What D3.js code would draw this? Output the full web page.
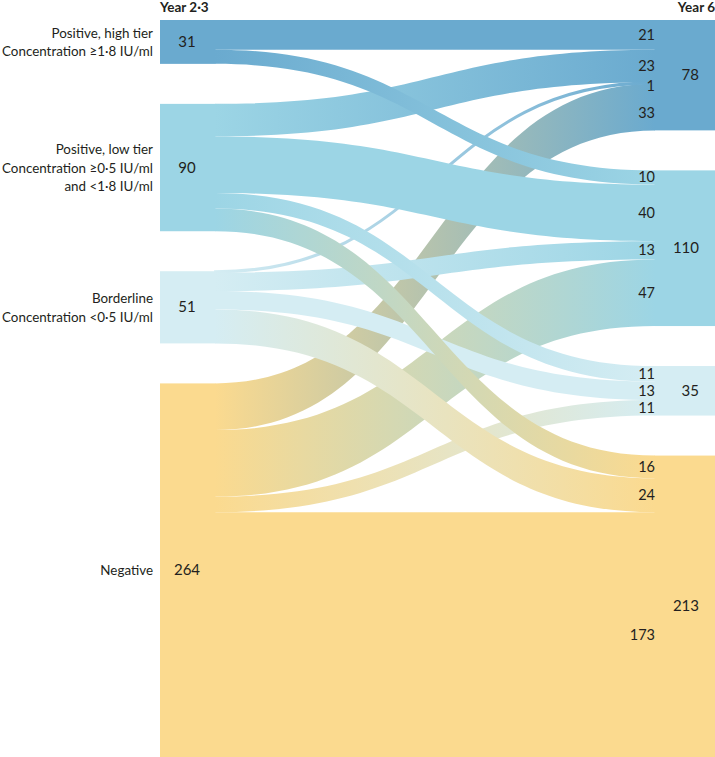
<!DOCTYPE html>
<html>
<head>
<meta charset="utf-8">
<script src="https://cdn.jsdelivr.net/npm/d3@7"></script>
<style>
  html, body { margin: 0; padding: 0; background: #fff; }
  svg { display: block; }
  text { font-family: Lato, "Open Sans", sans-serif; fill: #231f20; }
</style>
</head>
<body>
<div id="chart"></div>
<script>
// ---------- data ----------
const stages = ["Year 2·3", "Year 6"];
const categories = ["Positive, high tier", "Positive, low tier", "Borderline", "Negative"];
const categoryLabelLines = [
  ["Positive, high tier", "Concentration ≥1·8 IU/ml"],
  ["Positive, low tier", "Concentration ≥0·5 IU/ml", "and <1·8 IU/ml"],
  ["Borderline", "Concentration <0·5 IU/ml"],
  ["Negative"]
];
// flows from Year 2·3 category (row) to Year 6 category (column)
const fromHighTier   = [21, 10, 0, 0];
const fromLowTier    = [23, 40, 11, 16];
const fromBorderline = [1, 13, 13, 24];
const fromNegative   = [33, 47, 11, 173];
const flowMatrix = [fromHighTier, fromLowTier, fromBorderline, fromNegative];
const categoryColors = ["#6aaacf", "#9cd5e5", "#d5edf3", "#fbda8f"];

// ---------- layout ----------
const W = 715, H = 757;
const plotTop = 20, plotBottom = 757, nodeGap = 40;
const leftX0 = 160, leftX1 = 215, rightX0 = 655, rightX1 = 715;

const leftTotals = flowMatrix.map(r => d3.sum(r));
const rightTotals = categories.map((_, j) => d3.sum(flowMatrix, r => r[j]));
const grand = d3.sum(leftTotals);
const yScale = d3.scaleLinear().domain([0, grand])
  .range([0, (plotBottom - plotTop) - nodeGap * (categories.length - 1)]);

function stackNodes(totals) {
  let cur = plotTop;
  return totals.map(v => { const n = {y0: cur, y1: cur + yScale(v), value: v}; cur = n.y1 + nodeGap; return n; });
}
const leftNodes = stackNodes(leftTotals);
const rightNodes = stackNodes(rightTotals);

// build links
const links = [];
flowMatrix.forEach((row, i) => {
  let sOff = leftNodes[i].y0;
  row.forEach((v, j) => {
    if (v <= 0) return;
    const l = {s: i, t: j, value: v, sy0: sOff, sy1: sOff + yScale(v)};
    sOff = l.sy1;
    links.push(l);
  });
});
categories.forEach((_, j) => {
  let off = rightNodes[j].y0;
  links.filter(l => l.t === j).sort((a, b) => a.s - b.s).forEach(l => {
    l.ty0 = off; l.ty1 = off + yScale(l.value); off = l.ty1;
  });
});

const svg = d3.select("#chart").append("svg").attr("width", W).attr("height", H);
const defs = svg.append("defs");

function ribbon(l) {
  const x0 = leftX1, x1 = rightX0, xm = (x0 + x1) / 2;
  const p = d3.path();
  p.moveTo(x0, l.sy0);
  p.bezierCurveTo(xm, l.sy0, xm, l.ty0, x1, l.ty0);
  p.lineTo(x1, l.ty1);
  p.bezierCurveTo(xm, l.ty1, xm, l.sy1, x0, l.sy1);
  p.closePath();
  return p.toString();
}

links.forEach((l, k) => {
  const g = defs.append("linearGradient").attr("id", "g" + k)
    .attr("gradientUnits", "userSpaceOnUse")
    .attr("x1", leftX1).attr("x2", rightX0).attr("y1", 0).attr("y2", 0);
  g.append("stop").attr("offset", "0%").attr("stop-color", categoryColors[l.s]);
  g.append("stop").attr("offset", "100%").attr("stop-color", categoryColors[l.t]);
  l.k = k;
});

// nodes
svg.append("g").selectAll("rect").data(leftNodes).join("rect")
  .attr("x", leftX0).attr("width", leftX1 - leftX0 + 0.5)
  .attr("y", d => d.y0).attr("height", d => d.y1 - d.y0)
  .attr("fill", (d, i) => categoryColors[i]);
svg.append("g").selectAll("rect").data(rightNodes).join("rect")
  .attr("x", rightX0 - 0.5).attr("width", rightX1 - rightX0 + 0.5)
  .attr("y", d => d.y0).attr("height", d => d.y1 - d.y0)
  .attr("fill", (d, i) => categoryColors[i]);

// links: drawn from bottom source to top source
const drawOrder = links.slice().sort((a, b) => b.s - a.s || a.t - b.t);
svg.append("g").selectAll("path").data(drawOrder).join("path")
  .attr("d", ribbon)
  .attr("fill", d => `url(#g${d.k})`)
  .attr("stroke", d => yScale(d.value) < 3 ? `url(#g${d.k})` : "none")
  .attr("stroke-width", 1.8);

// stage titles
svg.append("text").attr("x", leftX0).attr("y", 12).attr("font-size", 13.5).attr("font-weight", 700)
  .text(stages[0]);
svg.append("text").attr("x", W).attr("y", 12).attr("font-size", 13.5).attr("font-weight", 700)
  .attr("text-anchor", "end").text(stages[1]);

// left category labels
const lineH = 18.5;
categoryLabelLines.forEach((lines, i) => {
  const c = (leftNodes[i].y0 + leftNodes[i].y1) / 2;
  const startY = c - (lines.length - 1) * lineH / 2 + 5;
  const t = svg.append("text").attr("font-size", 13.4).attr("text-anchor", "end");
  lines.forEach((s, m) => t.append("tspan").attr("x", 153).attr("y", startY + m * lineH).text(s));
});

// node value labels
svg.append("g").selectAll("text").data(leftNodes).join("text")
  .attr("x", 187).attr("y", d => (d.y0 + d.y1) / 2 + 5)
  .attr("text-anchor", "middle").attr("font-size", 15).text(d => d.value);
svg.append("g").selectAll("text").data(rightNodes).join("text")
  .attr("x", 699).attr("y", d => (d.y0 + d.y1) / 2 + 5)
  .attr("text-anchor", "end").attr("font-size", 15).text(d => d.value);

// link value labels at the target end
const nudge = l => (l.s === 2 && l.t === 0) ? 3 : (l.s === 3 && l.t === 0) ? 6 : 0;
svg.append("g").selectAll("text").data(links).join("text")
  .attr("x", 655).attr("y", l => (l.ty0 + l.ty1) / 2 + 5 + nudge(l))
  .attr("text-anchor", "end").attr("font-size", 14.5).text(l => l.value);
</script>
</body>
</html>
